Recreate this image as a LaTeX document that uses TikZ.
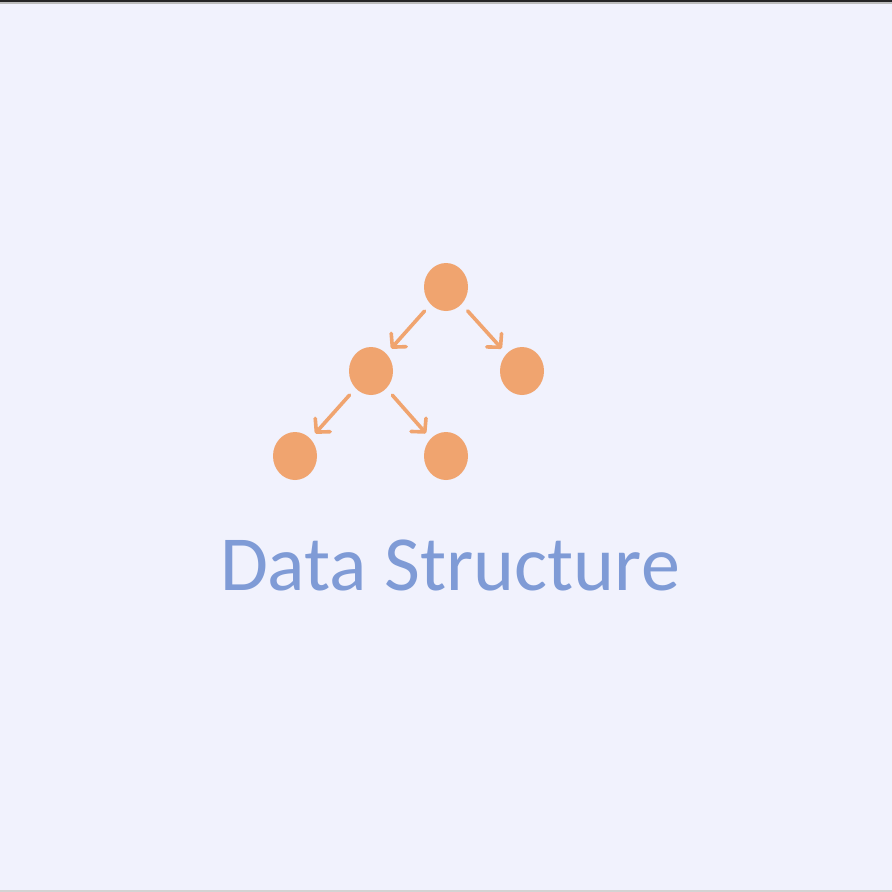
\documentclass[tikz,border=0pt]{standalone}
\usepackage{fontspec}
\setmainfont{Carlito}
\usetikzlibrary{shapes.geometric,arrows.meta}
\definecolor{bg}{HTML}{F1F2FD}
\definecolor{treeorange}{HTML}{F0A46F}
\definecolor{titleblue}{HTML}{7F9BD6}
\definecolor{topdark}{HTML}{262626}
\definecolor{topgrey}{HTML}{BDBDBD}
\definecolor{botgrey}{HTML}{D3D3D3}
\begin{document}
\begin{tikzpicture}[x=1pt,y=-1pt,
  treenode/.style={ellipse,fill=treeorange,draw=none,minimum width=44pt,minimum height=48pt,inner sep=0pt},
  treeedge/.style={draw=treeorange,line width=3.6pt,line cap=round,line join=round,
    -{Straight Barb[length=9.5pt,width=20pt,line width=3.6pt,round]},shorten <=9pt,shorten >=7pt}]
\useasboundingbox (0,0) rectangle (892,892);
\fill[bg] (0,0) rectangle (892,892);
\fill[topdark] (0,0) rectangle (892,2);
\fill[topgrey] (0,2) rectangle (892,3.5);
\fill[botgrey] (0,890) rectangle (892,892);
\node[treenode] (root) at (446,287) {};
\node[treenode] (lm) at (371,371) {};
\node[treenode] (rm) at (522,371) {};
\node[treenode] (bl) at (295,456) {};
\node[treenode] (br) at (446,456) {};
\draw[treeedge] (root) -- (lm);
\draw[treeedge] (root) -- (rm);
\draw[treeedge] (lm) -- (bl);
\draw[treeedge] (lm) -- (br);
\node[anchor=base,text=titleblue,font=\fontsize{78pt}{90pt}\selectfont,inner sep=0pt] (title) at (450,590) {Data Structure};
\end{tikzpicture}
\end{document}
